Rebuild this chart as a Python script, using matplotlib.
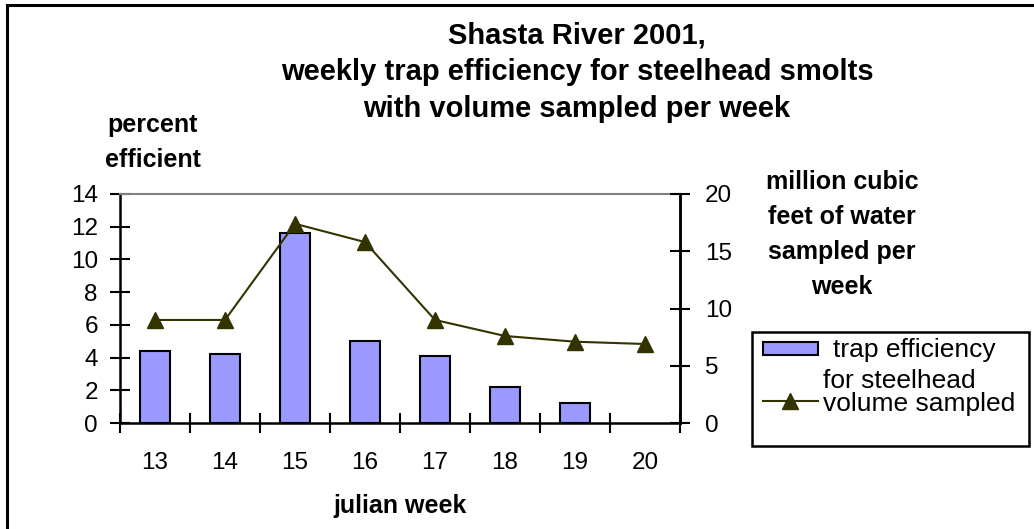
import matplotlib
matplotlib.use("Agg")
import matplotlib.pyplot as plt
from matplotlib.patches import Rectangle
from matplotlib.lines import Line2D

plt.rcParams['font.family'] = ['Liberation Sans', 'DejaVu Sans']

# data
weeks = ['13', '14', '15', '16', '17', '18', '19', '20']
trap_eff = [4.4, 4.2, 11.6, 5.0, 4.1, 2.2, 1.25, 0.0]
volume = [9.0, 9.0, 17.4, 15.8, 9.0, 7.6, 7.1, 6.9]

W, H = 1034, 529
fig = plt.figure(figsize=(W / 100, H / 100), dpi=100)

def fx(px):
    return px / W

def fy(py):
    return 1 - py / H

# plot area in pixels: x 120..680, y 194..423
ax = fig.add_axes([fx(120), fy(423), fx(680) - fx(120), fy(194) - fy(423)])
x = list(range(len(weeks)))
# empty weeks get no outline, like the original
edges = ['black' if v > 0 else 'none' for v in trap_eff]
ax.bar(x, trap_eff, width=0.42, color='#9999FF', edgecolor=edges, linewidth=1.5, zorder=2)
ax.set_xlim(-0.5, len(weeks) - 0.5)
ax.set_ylim(0, 14)
ax.set_yticks(range(0, 15, 2))
ax.set_xticks([i - 0.5 for i in range(len(weeks) + 1)])
ax.set_xticklabels([])
ax.set_xticks(x, minor=True)
ax.set_xticklabels(weeks, minor=True)
ax.tick_params(axis='x', which='major', direction='inout', length=14, width=1.5)
ax.tick_params(axis='x', which='minor', length=0, pad=21, labelsize=17.5)
ax.tick_params(axis='y', direction='inout', length=14, width=1.5, pad=9, labelsize=17.5)
for s in ['left', 'bottom', 'right']:
    ax.spines[s].set_linewidth(1.8)
    ax.spines[s].set_color('black')
ax.spines['top'].set_color('#808080')
ax.spines['top'].set_linewidth(1.5)

ax2 = ax.twinx()
ax2.plot(x, volume, color='#333300', linewidth=1.5, marker='^', markersize=11, zorder=3)
ax2.set_ylim(0, 20)
ax2.set_yticks(range(0, 21, 5))
ax2.tick_params(axis='y', direction='inout', length=14, width=1.5, pad=11, labelsize=17.5)
for s in ['left', 'top', 'bottom']:
    ax2.spines[s].set_visible(False)
ax2.spines['right'].set_linewidth(1.8)

# titles and axis labels
title_lines = ['Shasta River 2001,', 'weekly trap efficiency for steelhead smolts', 'with volume sampled per week']
for i, line in enumerate(title_lines):
    fig.text(fx(577), fy(36 + i * 36.5), line, ha='center', va='center', fontsize=21, fontweight='bold')
fig.text(fx(153), fy(125), 'percent', ha='center', va='center', fontsize=18, fontweight='bold')
fig.text(fx(153), fy(160), 'efficient', ha='center', va='center', fontsize=18, fontweight='bold')
for i, line in enumerate(['million cubic', 'feet of water', 'sampled per', 'week']):
    fig.text(fx(842), fy(182 + i * 35), line, ha='center', va='center', fontsize=18, fontweight='bold')
fig.text(fx(400), fy(506), 'julian week', ha='center', va='center', fontsize=18, fontweight='bold')

# legend drawn by hand to keep the wrapped label overlap
fig.patches.append(Rectangle((fx(752), fy(446)), fx(1029) - fx(752), fy(332) - fy(446),
                             transform=fig.transFigure, facecolor='white', edgecolor='black', linewidth=1.8))
fig.patches.append(Rectangle((fx(763), fy(355)), fx(818) - fx(763), fy(342) - fy(355),
                             transform=fig.transFigure, facecolor='#9999FF', edgecolor='black', linewidth=1.5))
fig.lines.append(Line2D([fx(763), fx(818)], [fy(401), fy(401)], transform=fig.transFigure,
                        color='#333300', linewidth=1.5))
fig.lines.append(Line2D([fx(790)], [fy(401)], transform=fig.transFigure, color='#333300',
                        marker='^', markersize=11))
fig.text(fx(833), fy(350), 'trap efficiency', ha='left', va='center', fontsize=19)
fig.text(fx(823), fy(381), 'for steelhead', ha='left', va='center', fontsize=19)
fig.text(fx(823), fy(404), 'volume sampled', ha='left', va='center', fontsize=19)

# outer chart border (right and bottom edges fall outside the image)
fig.patches.append(Rectangle((fx(7), fy(540)), fx(1045) - fx(7), fy(5) - fy(540),
                             transform=fig.transFigure, fill=False, edgecolor='black', linewidth=2.2))

fig.savefig('out.png', dpi=100)
